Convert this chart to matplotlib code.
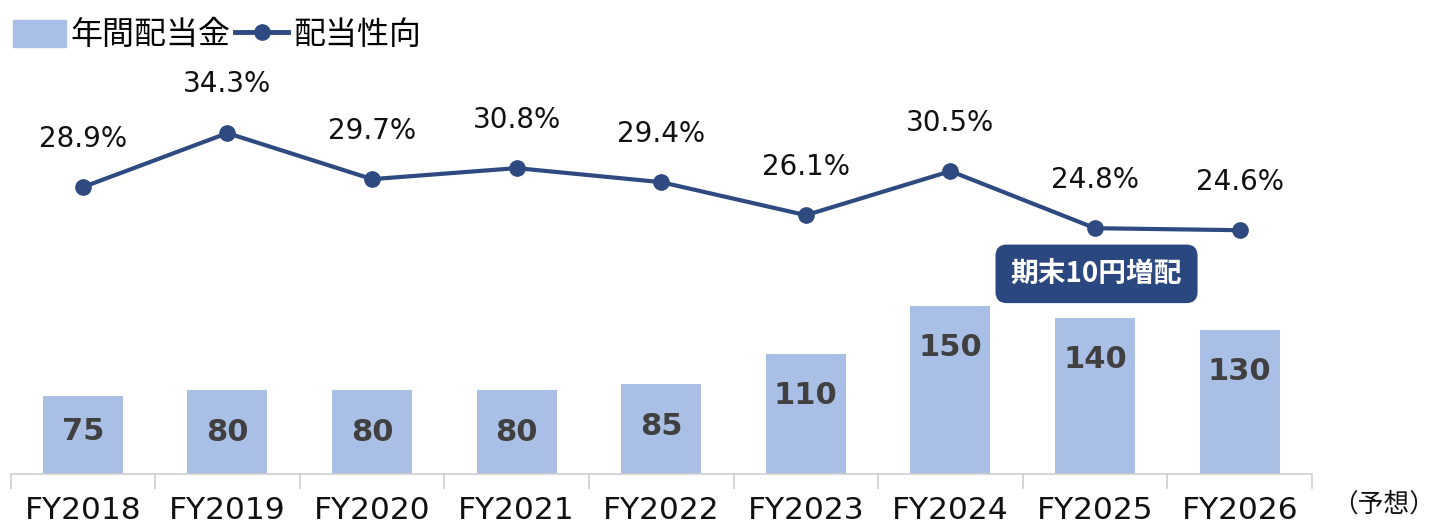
import matplotlib
matplotlib.use("Agg")
import matplotlib.pyplot as plt
from matplotlib.patches import Patch
from matplotlib.lines import Line2D

plt.rcParams['font.family'] = ['DejaVu Sans', 'Noto Sans CJK JP']

years = ["FY2018", "FY2019", "FY2020", "FY2021", "FY2022", "FY2023", "FY2024", "FY2025", "FY2026"]
dividend = [75, 80, 80, 80, 85, 110, 150, 140, 130]
payout = [28.9, 34.3, 29.7, 30.8, 29.4, 26.1, 30.5, 24.8, 24.6]

bar_color = "#AABFE5"
line_color = "#2E4A80"

fig = plt.figure(figsize=(14.38, 5.27), dpi=100)
ax = fig.add_axes([10.5 / 1438, 53.5 / 527, 1301.5 / 1438, 413.5 / 527])
x = list(range(len(years)))

ax.bar(x, dividend, width=0.553, color=bar_color, zorder=2)
ax.set_ylim(10.8, 355)
# labels sit a fixed distance under the bar top
for xi, v in zip(x, dividend):
    off = -25 if v < 78 else -30
    ax.annotate(str(v), (xi, v), xytext=(0, off), textcoords="offset points",
                ha="center", va="center", fontsize=22, fontweight="bold",
                color="#404040", zorder=3)

ax.set_xlim(-0.5, len(years) - 0.5)
ax.set_xticks(x)
ax.set_xticklabels(years, fontsize=22.5, color="#111111")
ax.tick_params(axis="x", which="major", length=0, pad=16)
ax.set_xticks([i - 0.5 for i in range(len(years) + 1)], minor=True)
ax.tick_params(axis="x", which="minor", length=11, color="#D0D0D0", width=1.2)
ax.set_yticks([])
for s in ["top", "right", "left"]:
    ax.spines[s].set_visible(False)
ax.spines["bottom"].set_color("#D0D0D0")
ax.spines["bottom"].set_linewidth(1.2)

ax2 = ax.twinx()
ax2.plot(x, payout, color=line_color, lw=3, marker="o", markersize=11, zorder=4)
for xi, p in zip(x, payout):
    ax2.annotate(f"{p:.1f}%", (xi, p), xytext=(0, 35), textcoords="offset points",
                 ha="center", va="center", fontsize=20, color="#111111")
ax2.set_ylim(0.3, 41.6)
ax2.set_yticks([])
for s in ["top", "right", "left", "bottom"]:
    ax2.spines[s].set_visible(False)

ax.text(7.01, 177, "期末10円増配", ha="center", va="center", fontsize=20, fontweight="bold",
        color="white", family=["Noto Sans CJK JP"], zorder=5,
        bbox=dict(boxstyle="round,pad=0.55,rounding_size=0.4", fc="#2B4780", ec="none"))

handles = [Patch(color=bar_color), Line2D([], [], color=line_color, lw=3.5, marker="o", markersize=11)]
fig.legend(handles, ["年間配当金", "配当性向"], loc="upper left", bbox_to_anchor=(-0.011, 1.018),
           ncol=2, frameon=False, handlelength=1.65, handleheight=0.9, handletextpad=0.15,
           columnspacing=0.15, prop={"family": ["Noto Sans CJK JP"], "size": 23})

fig.text(1384 / 1438, 1 - 506 / 527, "（予想）", ha="center", va="center", fontsize=18.5,
         family=["Noto Sans CJK JP"], color="#111111")

fig.savefig("out.png", dpi=100)
